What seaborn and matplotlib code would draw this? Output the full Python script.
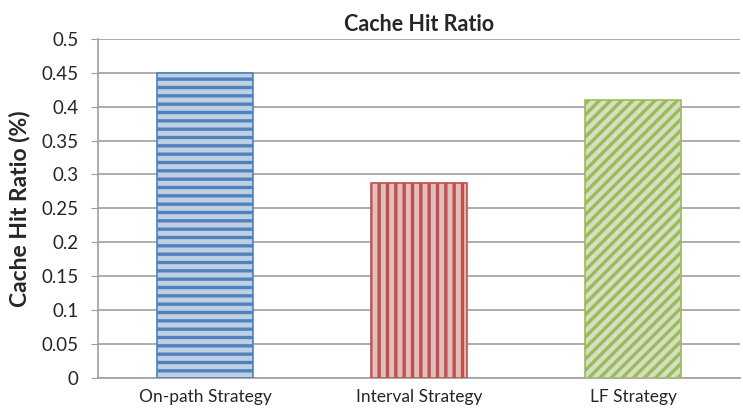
import matplotlib
matplotlib.use("Agg")
import matplotlib.pyplot as plt
import seaborn as sns

strategies = ["On-path Strategy", "Interval Strategy", "LF Strategy"]
hit_ratio = [0.45, 0.287, 0.41]

fills = ["#b9cde5", "#e6b9b8", "#d7e4bd"]
edges = ["#4f81bd", "#c0504d", "#9bbb59"]
hatches = ["--", "||", "///"]

sns.set_style("white")
plt.rcParams["font.family"] = ["Lato", "DejaVu Sans"]
plt.rcParams["hatch.linewidth"] = 2.4

fig = plt.figure(figsize=(7.43, 4.18), dpi=100)
ax = fig.add_axes([0.132, 0.096, 0.864, 0.811])

sns.barplot(ax=ax, x=strategies, y=hit_ratio, hue=strategies, palette=fills,
            width=0.45, legend=False, zorder=3)

for patch, ec, h in zip(ax.patches, edges, hatches):
    patch.set_hatch(h)
    patch.set_edgecolor(ec)
    patch.set_linewidth(1.2)

ax.set_ylim(0, 0.5)
ax.set_yticks([i * 0.05 for i in range(11)])
ax.set_yticklabels(["0", "0.05", "0.1", "0.15", "0.2", "0.25", "0.3", "0.35", "0.4", "0.45", "0.5"])
ax.yaxis.grid(True, color="#a0a0a0", linewidth=1.2, zorder=0)
ax.set_axisbelow(True)

for s in ["top", "right"]:
    ax.spines[s].set_visible(False)
ax.spines["left"].set_color("#a0a0a0")
ax.spines["bottom"].set_color("#a0a0a0")
ax.spines["left"].set_linewidth(1.2)
ax.spines["bottom"].set_linewidth(1.2)

ax.tick_params(axis="y", length=5, color="#a0a0a0", labelsize=13.5, left=True, pad=9)
ax.tick_params(axis="x", length=0, labelsize=12.5, pad=8)

ax.set_title("Cache Hit Ratio", fontsize=15.5, fontweight="bold", pad=6)
ax.set_ylabel("Cache Hit Ratio (%)", fontsize=16.5, fontweight="bold", labelpad=8)
ax.set_xlabel("")

fig.savefig("out.png", dpi=100)
